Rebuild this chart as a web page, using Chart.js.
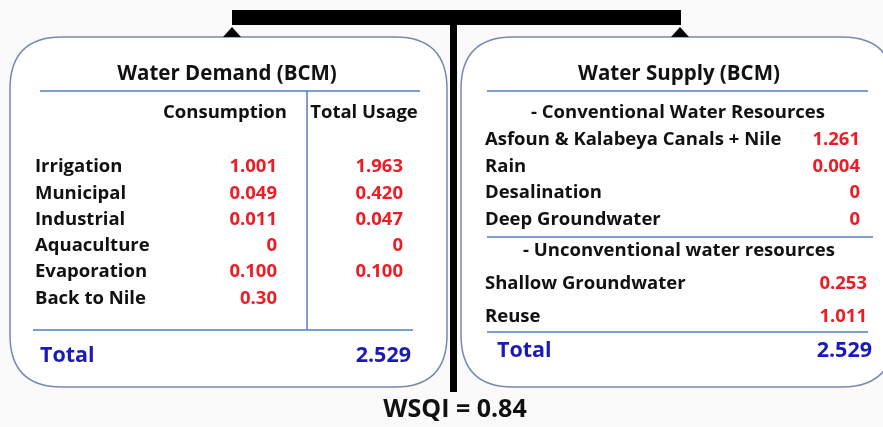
<!DOCTYPE html>
<html>
<head>
<meta charset="utf-8">
<script src="https://cdn.jsdelivr.net/npm/chart.js@4"></script>
<style>
  html, body { margin: 0; padding: 0; background: #fafafa; overflow: hidden; }
  #wrap { width: 883px; height: 427px; }
</style>
</head>
<body>
<div id="wrap"><canvas id="balance" width="883" height="427"></canvas></div>
<script>
// demand side
const demandTitle = 'Water Demand (BCM)';
const demandColumns = ['Consumption', 'Total Usage'];
const demandCategories = ['Irrigation', 'Municipal', 'Industrial', 'Aquaculture', 'Evaporation', 'Back to Nile'];
const consumption = ['1.001', '0.049', '0.011', '0', '0.100', '0.30'];
const totalUsage = ['1.963', '0.420', '0.047', '0', '0.100', ''];
const demandTotal = '2.529';

// supply side
const supplyTitle = 'Water Supply (BCM)';
const conventionalTitle = '- Conventional Water Resources';
const conventionalSources = ['Asfoun & Kalabeya Canals + Nile', 'Rain', 'Desalination', 'Deep Groundwater'];
const conventionalValues = ['1.261', '0.004', '0', '0'];
const unconventionalTitle = '- Unconventional water resources';
const unconventionalSources = ['Shallow Groundwater', 'Reuse'];
const unconventionalValues = ['0.253', '1.011'];
const supplyTotal = '2.529';

const wsqi = 'WSQI = 0.84';

const RED = '#ee1c25';
const BLUE = '#1a1ab8';
const LINE = '#4f7cc4';
const FONT = '"Open Sans", Lato, sans-serif';

function roundBox(ctx, x0, y0, x1, y1, r) {
  ctx.beginPath();
  ctx.moveTo(x0 + r, y0);
  ctx.lineTo(x1 - r, y0);
  ctx.quadraticCurveTo(x1, y0, x1, y0 + r);
  ctx.lineTo(x1, y1 - r);
  ctx.quadraticCurveTo(x1, y1, x1 - r, y1);
  ctx.lineTo(x0 + r, y1);
  ctx.quadraticCurveTo(x0, y1, x0, y1 - r);
  ctx.lineTo(x0, y0 + r);
  ctx.quadraticCurveTo(x0, y0, x0 + r, y0);
  ctx.closePath();
  ctx.fillStyle = '#ffffff';
  ctx.fill();
  ctx.strokeStyle = '#7a88b0';
  ctx.lineWidth = 1.5;
  ctx.stroke();
}

const balancePlugin = {
  id: 'balance',
  beforeDraw(chart) {
    const ctx = chart.ctx;
    const sx = chart.scales.x, sy = chart.scales.y;
    const X = v => sx.getPixelForValue(v);
    const Y = v => sy.getPixelForValue(v);

    function text(str, x, y, size, color, align) {
      ctx.font = 'bold ' + size + 'px ' + FONT;
      ctx.fillStyle = color;
      ctx.textAlign = align || 'left';
      ctx.textBaseline = 'middle';
      ctx.fillText(str, X(x), Y(y));
    }
    function hline(x0, x1, y) {
      ctx.strokeStyle = LINE; ctx.lineWidth = 1.5;
      ctx.beginPath(); ctx.moveTo(X(x0), Y(y)); ctx.lineTo(X(x1), Y(y)); ctx.stroke();
    }
    function vline(x, y0, y1) {
      ctx.strokeStyle = LINE; ctx.lineWidth = 1.5;
      ctx.beginPath(); ctx.moveTo(X(x), Y(y0)); ctx.lineTo(X(x), Y(y1)); ctx.stroke();
    }
    function tri(x) {
      ctx.fillStyle = '#000';
      ctx.beginPath();
      ctx.moveTo(X(x), Y(27)); ctx.lineTo(X(x - 9), Y(37)); ctx.lineTo(X(x + 9), Y(37));
      ctx.closePath(); ctx.fill();
    }

    const body = 18.5, head = 20.5, tot = 21.5;

    ctx.save();
    // scale beam
    ctx.fillStyle = '#000';
    ctx.fillRect(X(232), Y(10), X(681) - X(232), Y(25) - Y(10));
    ctx.fillRect(X(450), Y(24), 7, Y(392) - Y(24));

    // boxes (right one runs off the canvas edge like the source)
    roundBox(ctx, X(10), Y(37), X(447), Y(387), 52);
    roundBox(ctx, X(461), Y(37), X(894), Y(387), 52);
    tri(232); tri(680);

    // demand box
    text(demandTitle, 227, 74, head, '#111', 'center');
    hline(40, 420, 91);
    text(demandColumns[0], 225, 113, body, '#111', 'center');
    text(demandColumns[1], 364, 113, body, '#111', 'center');
    vline(307, 91, 330);
    demandCategories.forEach((c, i) => {
      const y = 167 + i * 26.3;
      text(c, 35, y, body, '#111');
      text(consumption[i], 277, y, body, RED, 'right');
      if (totalUsage[i]) text(totalUsage[i], 403, y, body, RED, 'right');
    });
    hline(33, 413, 330);
    text('Total', 40, 356, tot, BLUE);
    text(demandTotal, 411, 356, tot, BLUE, 'right');

    // supply box
    text(supplyTitle, 679, 74, head, '#111', 'center');
    hline(487, 868, 91);
    text(conventionalTitle, 678, 113, body, '#111', 'center');
    conventionalSources.forEach((c, i) => {
      const y = 140 + i * 26.5;
      text(c, 485, y, body, '#111');
      text(conventionalValues[i], 860, y, body, RED, 'right');
    });
    hline(487, 873, 237);
    text(unconventionalTitle, 679, 251, body, '#111', 'center');
    unconventionalSources.forEach((c, i) => {
      const y = 284 + i * 33;
      text(c, 485, y, body, '#111');
      text(unconventionalValues[i], 867, y, body, RED, 'right');
    });
    hline(487, 868, 332);
    text('Total', 497, 351, tot, BLUE);
    text(supplyTotal, 872, 351, tot, BLUE, 'right');

    // index
    text(wsqi, 455, 410, 25, '#111', 'center');
    ctx.restore();
  }
};

new Chart(document.getElementById('balance'), {
  type: 'scatter',
  data: { datasets: [{ data: [], showLine: false }] },
  options: {
    responsive: false,
    animation: false,
    events: [],
    layout: { padding: 0 },
    plugins: { legend: { display: false }, tooltip: { enabled: false }, title: { display: false } },
    scales: {
      x: { type: 'linear', min: 0, max: 883, display: false },
      y: { type: 'linear', min: 0, max: 427, reverse: true, display: false }
    }
  },
  plugins: [balancePlugin]
});
</script>
</body>
</html>
